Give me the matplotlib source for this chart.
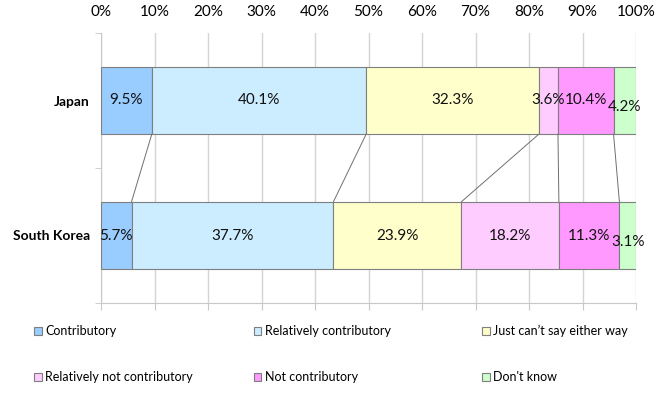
import numpy as np
import matplotlib.pyplot as plt
from matplotlib.patches import Patch

# --- DATA ---
countries = ['Japan', 'South Korea']
answers = ['Contributory', 'Relatively contributory', 'Just can\u2019t say either way',
           'Relatively not contributory', 'Not contributory', "Don't know"]
japan = [9.5, 40.1, 32.3, 3.6, 10.4, 4.2]
korea = [5.7, 37.7, 23.9, 18.2, 11.3, 3.1]
tick_labels = ['0%', '10%', '20%', '30%', '40%', '50%', '60%', '70%', '80%', '90%', '100%']

colors = ['#99CCFF', '#CCECFF', '#FFFFCC', '#FFCCFF', '#FF99FF', '#CCFFCC']
edge = '#7f7f7f'

plt.rcParams['font.family'] = ['Lato', 'DejaVu Sans']

values = np.array([japan, korea], dtype=float)
# 100% stacked: normalise each row like Excel does
shares = values / values.sum(axis=1, keepdims=True) * 100
lefts = np.cumsum(shares, axis=1) - shares

fig = plt.figure(figsize=(6.70, 3.99), dpi=100)
ax = fig.add_axes([101 / 670, 1 - 303 / 399, 535 / 670, 270 / 399])

ypos = np.arange(len(countries))
bar_h = 0.5
for j, name in enumerate(answers):
    ax.barh(ypos, shares[:, j], left=lefts[:, j], height=bar_h,
            color=colors[j], edgecolor=edge, linewidth=0.8, zorder=3)
    for i in range(len(countries)):
        cx = lefts[i, j] + shares[i, j] / 2
        dy = 0.05 if j == len(answers) - 1 else 0.0  # Excel nudges the last label down
        ax.text(cx, ypos[i] + dy, f'{values[i, j]:.1f}%', ha='center', va='center',
                fontsize=11, color='#111111', zorder=5)

# series lines between the two bars
bounds = np.cumsum(shares, axis=1)[:, :-1]
for k in range(bounds.shape[1]):
    ax.plot([bounds[0, k], bounds[1, k]], [ypos[0] + bar_h / 2, ypos[1] - bar_h / 2],
            color='#6f6f6f', linewidth=0.7, zorder=4)

ax.set_xlim(0, 100)
ax.set_ylim(1.5, -0.5)
ax.set_xticks(np.arange(0, 101, 10))
ax.set_xticklabels(tick_labels)
ax.xaxis.set_ticks_position('bottom')
ax.tick_params(axis='x', which='both', labeltop=True, labelbottom=False,
               length=5, color='#c8c8c8', labelsize=11, pad=5)
ax.grid(axis='x', color='#d4d4d4', linewidth=1, zorder=0)

ax.set_yticks(ypos)
ax.set_yticklabels(countries, fontweight='bold', fontsize=10)
ax.tick_params(axis='y', which='major', length=0, pad=8)
ax.set_yticks([-0.5, 0.5, 1.5], minor=True)
ax.tick_params(axis='y', which='minor', length=4, color='#c8c8c8')

for s in ['top', 'right']:
    ax.spines[s].set_visible(False)
ax.spines['left'].set_color('#c8c8c8')
ax.spines['bottom'].set_color('#c8c8c8')

# legend: Excel-style grid of 3 columns x 2 rows
leg_x = [34 / 670, 254 / 670, 482 / 670]
leg_y = [1 - 331 / 399, 1 - 377 / 399]
for j, name in enumerate(answers):
    h = Patch(facecolor=colors[j], edgecolor=edge, linewidth=0.8)
    fig.legend([h], [name], loc='center left',
               bbox_to_anchor=(leg_x[j % 3], leg_y[j // 3]),
               frameon=False, fontsize=9, handlelength=0.6, handleheight=0.6,
               handletextpad=0.3, borderpad=0, borderaxespad=0)

fig.savefig('out.png', dpi=100)
